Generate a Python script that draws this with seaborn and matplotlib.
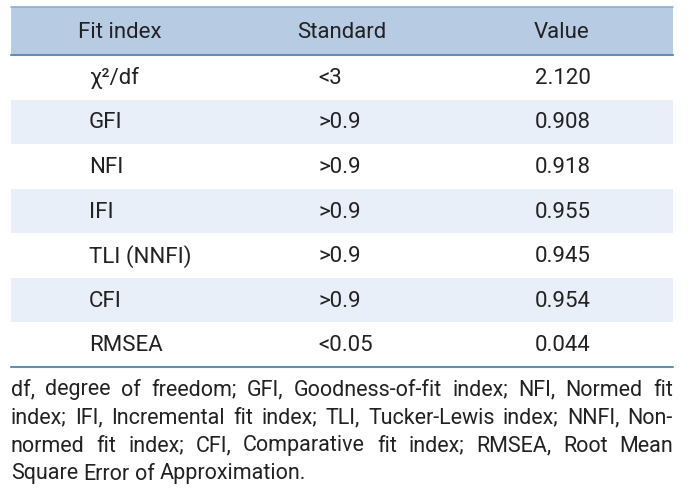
import matplotlib
matplotlib.use("Agg")
import matplotlib.pyplot as plt
import seaborn as sns

sns.set_style("white")
plt.rcParams["font.family"] = ["Roboto", "DejaVu Sans"]

columns = ["Fit index", "Standard", "Value"]
fit_index = ["χ²/df", "GFI", "NFI", "IFI", "TLI (NNFI)", "CFI", "RMSEA"]
standard = ["<3", ">0.9", ">0.9", ">0.9", ">0.9", ">0.9", "<0.05"]
value = ["2.120", "0.908", "0.918", "0.955", "0.945", "0.954", "0.044"]
footnote = [
    "df, degree of freedom; GFI, Goodness-of-fit index; NFI, Normed fit",
    "index; IFI, Incremental fit index; TLI, Tucker-Lewis index; NNFI, Non-",
    "normed fit index; CFI, Comparative fit index; RMSEA, Root Mean",
    "Square Error of Approximation.",
]

header_bg = "#b7cce3"
stripe_bg = "#e9eff8"
line_col = "#5f8fb4"
text_col = "#222222"

fig = plt.figure(figsize=(6.92, 5.0), dpi=100)
ax = fig.add_axes([0, 0, 1, 1])
ax.set_xlim(0, 692)
ax.set_ylim(500, 0)
ax.axis("off")

left, right = 11, 673
head_top, head_bot = 7, 55
row_h = (367 - head_bot) / len(fit_index)

# header band
ax.fill_between([left, right], head_top, head_bot, color=header_bg, lw=0)
ax.plot([left, right], [head_top, head_top], color="#8fb0cf", lw=1.2)
ax.plot([left, right], [head_bot, head_bot], color=line_col, lw=1.5)

head_x = [120, 342, 562]
for x, c in zip(head_x, columns):
    ax.text(x, (head_top + head_bot) / 2 + 1, c, ha="center", va="center",
            fontsize=16, color=text_col)

col_x = [89, 318, 535]
for i, row in enumerate(zip(fit_index, standard, value)):
    top = head_bot + i * row_h
    if i % 2 == 1:
        ax.fill_between([left, right], top, top + row_h, color=stripe_bg, lw=0)
    for x, s in zip(col_x, row):
        ax.text(x, top + row_h / 2 + 1, s, ha="left", va="center",
                fontsize=16, color=text_col)

ax.plot([left, right], [367, 367], color=line_col, lw=1.5)

# justified footnote
fig.canvas.draw()
renderer = fig.canvas.get_renderer()
fs = 15.5


def word_widths(words, size):
    out = []
    for w in words:
        t = ax.text(0, 0, w, fontsize=size)
        out.append(t.get_window_extent(renderer).width)
        t.remove()
    return out


while True:
    too_wide = False
    for ln in footnote[:-1]:
        ws = word_widths(ln.split(), fs)
        if sum(ws) + 0.17 * fs * 100 / 72 * (len(ws) - 1) > right - left:
            too_wide = True
    if not too_wide:
        break
    fs -= 0.25

line_y = [390, 418, 446, 474]
for k, (ln, y) in enumerate(zip(footnote, line_y)):
    words = ln.split()
    ws = word_widths(words, fs)
    if k < len(footnote) - 1:
        gap = (right - left - sum(ws)) / (len(words) - 1)
    else:
        gap = 0.24 * fs * 100 / 72
    x = left
    for w, wd in zip(words, ws):
        ax.text(x, y, w, ha="left", va="center", fontsize=fs, color=text_col)
        x += wd + gap

fig.savefig("out.png", dpi=100)
